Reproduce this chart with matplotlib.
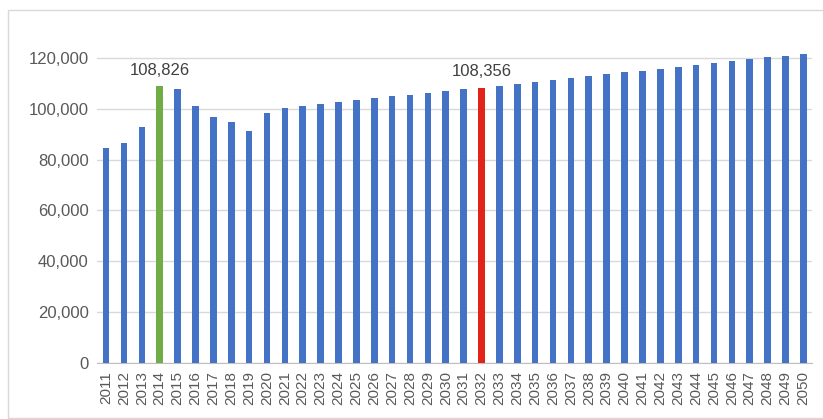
import numpy as np
import matplotlib
matplotlib.use("Agg")
import matplotlib.pyplot as plt
from matplotlib.patches import Rectangle

#%%
### Data ###
years = list(range(2011, 2051))
values = [84700, 86700, 93000, 108826, 108000, 101100, 96900, 94700, 91100, 98200,
          100300, 101100, 101900, 102700, 103500, 104100, 104900, 105600, 106200, 107000,
          107700, 108356, 109100, 109900, 110700, 111300, 112000, 112800, 113600, 114400,
          115000, 115800, 116600, 117200, 118000, 118700, 119500, 120300, 121000, 121700]
highlight = {2014: "#70AD47", 2032: "#E2231A"}
yticks = [0, 20000, 40000, 60000, 80000, 100000, 120000]

#%%
plt.rcParams['font.family'] = ['Liberation Sans', 'DejaVu Sans']

fig = plt.figure(figsize=(8.23, 4.19), dpi=100)
ax = fig.add_axes([0.118, 0.134, 0.869, 0.788])

x = np.arange(len(years))
colors = [highlight.get(y, "#4472C4") for y in years]
ax.bar(x, values, width=0.37, color=colors, zorder=3)

# value labels on the highlighted bars
for y in highlight:
    i = years.index(y)
    ax.text(x[i], values[i] + 3500, f"{values[i]:,}", ha="center", va="bottom",
            fontsize=12, color="#404040")

ax.set_xlim(-0.5, len(years) - 0.5)
ax.set_ylim(0, 130000)
ax.set_yticks(yticks)
ax.set_yticklabels([f"{v:,}" for v in yticks], fontsize=12, color="#595959")
ax.set_xticks(x)
ax.set_xticklabels([str(y) for y in years], rotation=90, fontsize=11, color="#595959")
ax.tick_params(length=0, pad=6)
ax.grid(axis="y", color="#D9D9D9", lw=1, zorder=0)
for s in ["top", "right", "left"]:
    ax.spines[s].set_visible(False)
ax.spines["bottom"].set_color("#BFBFBF")

# light frame around the chart area (runs off the right edge)
fig.patches.append(Rectangle((8 / 823, 1 / 419), 1.02, 1 - 11 / 419,
                             transform=fig.transFigure, fill=False,
                             edgecolor="#D9D9D9", lw=1))

fig.savefig("out.png", dpi=100)
